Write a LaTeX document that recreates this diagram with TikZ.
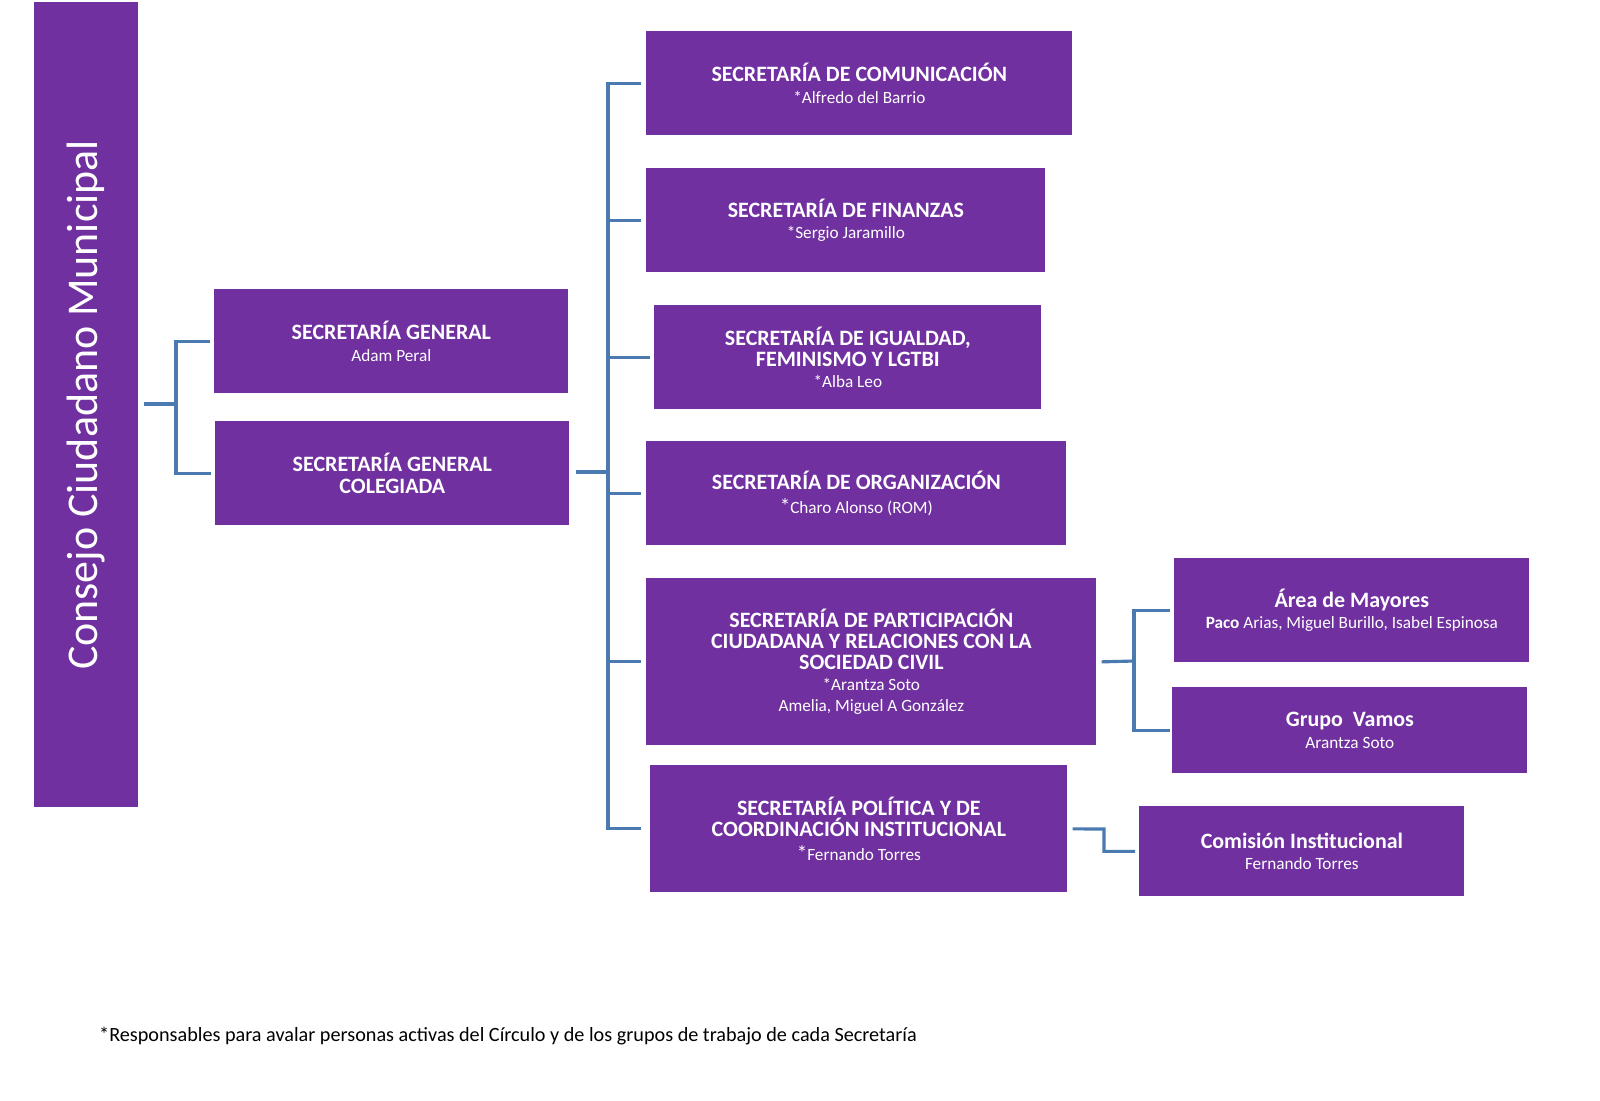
\documentclass[tikz,border=0pt]{standalone}
\usepackage{fontspec}
\setmainfont{Carlito}
\usetikzlibrary{calc}
\definecolor{morado}{HTML}{7030A0}
\definecolor{azul}{HTML}{4A7AB0}
\tikzset{
	caja/.style={fill=morado, text=white, align=center, inner sep=0pt},
	rama/.style={azul, line width=1.8pt},
}
\newcommand{\tit}[1]{{\bfseries\fontsize{12.5}{17}\selectfont #1}}
\newcommand{\sub}[1]{{\fontsize{9.8}{13}\selectfont #1}}
\newcommand{\caja}[6]{%
	\node[caja, minimum width=#4*0.02cm, minimum height=#5*0.02cm, anchor=north west] (#1) at (#2,#3) {#6};}

\begin{document}
\begin{tikzpicture}[x=0.02cm, y=-0.02cm]
	\useasboundingbox (0,0) rectangle (1600,1100);
	% Consejo
	\caja{consejo}{34}{2}{104}{805}{}
	\node[text=white, rotate=90, font=\fontsize{25}{30}\selectfont] at (consejo.center) {Consejo Ciudadano Municipal};

	% Secretarias generales
	\caja{sg}{214}{289}{354}{104}{\tit{SECRETARÍA GENERAL}\\\sub{Adam Peral}}
	\caja{sgc}{215}{421}{354}{104}{\tit{SECRETARÍA GENERAL}\\\tit{COLEGIADA}}

	% Secretarias
	\caja{com}{646}{31}{426}{104}{\tit{SECRETARÍA DE COMUNICACIÓN}\\\sub{*Alfredo del Barrio}}
	\caja{fin}{646}{168}{399}{104}{\tit{SECRETARÍA DE FINANZAS}\\\sub{*Sergio Jaramillo}}
	\caja{igu}{654}{305}{387}{104}{\tit{SECRETARÍA DE IGUALDAD,}\\\tit{FEMINISMO Y LGTBI}\\\sub{*Alba Leo}}
	\caja{org}{646}{441}{420}{104}{\tit{SECRETARÍA DE ORGANIZACIÓN}\\[2pt]\sub{{\large *}Charo Alonso (ROM)}}
	\caja{par}{646}{578}{450}{167}{\tit{SECRETARÍA DE PARTICIPACIÓN}\\\tit{CIUDADANA Y RELACIONES CON LA}\\\tit{SOCIEDAD CIVIL}\\\sub{*Arantza Soto}\\\sub{Amelia, Miguel A González}}
	\caja{pol}{650}{765}{417}{127}{\tit{SECRETARÍA POLÍTICA Y DE}\\\tit{COORDINACIÓN INSTITUCIONAL}\\[2pt]\sub{{\large *}Fernando Torres}}

	% Areas
	\caja{may}{1174}{558}{355}{104}{\tit{Área de Mayores}\\\sub{\textbf{Paco} Arias, Miguel Burillo, Isabel Espinosa}}
	\caja{vam}{1172}{687}{355}{86}{\tit{Grupo\ \ Vamos}\\\sub{Arantza Soto}}
	\caja{cin}{1139}{806}{325}{90}{\tit{Comisión Institucional}\\\sub{Fernando Torres}}

	% Conectores
	\coordinate (c1) at (176,404);
	\draw[rama] ($(consejo.east |- c1)+(5,0)$) -- (c1);
	\draw[rama] ($(sg.west)+(-4,0)$) -| (c1) |- ($(sgc.west)+(-4,0)$);

	\coordinate (c2) at (608,472);
	\draw[rama] ($(sgc.east |- c2)+(6,0)$) -- (c2);
	\draw[rama] ($(com.west)+(-5,0)$) -| (c2) |- ($(pol.west)+(-9,0)$);
	\foreach \s in {fin,org,par}
		\draw[rama] (c2) |- ($(\s.west)+(-5,0)$);
	\draw[rama] (c2) |- ($(igu.west)+(-4,0)$);

	\coordinate (c3) at (1134,661);
	\draw[rama] ($(par.east)+(5,0)$) -- (c3);
	\draw[rama] ($(may.west)+(-4,0)$) -| (c3) |- ($(vam.west)+(-2,0)$);

	\draw[rama] ($(pol.east)+(5,0)$) -- (1104,829) |- ($(cin.west)+(-4,0)$);

	% Nota
	\node[anchor=west, font=\fontsize{11.5}{14}\selectfont] (nota) at (93,1036) {*Responsables para avalar personas activas del Círculo y de los grupos de trabajo de cada Secretaría};
\end{tikzpicture}
\end{document}
